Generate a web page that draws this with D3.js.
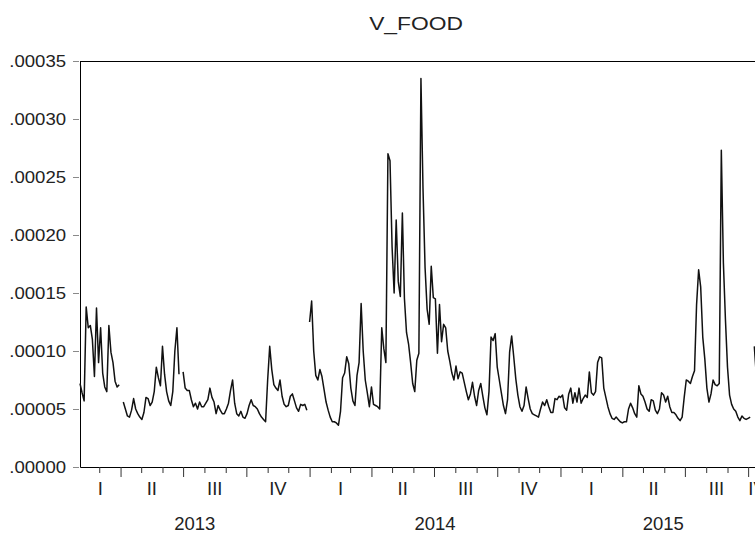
<!DOCTYPE html>
<html>
<head>
<meta charset="utf-8">
<script src="https://cdn.jsdelivr.net/npm/d3@7"></script>
<style>
  body { margin: 0; background: #fff; }
  svg { display: block; font-family: "Liberation Sans", Arial, sans-serif; }
</style>
</head>
<body>
<div id="chart"></div>
<script>
// V_FOOD, one value every 3 calendar days, in units of 1e-5
// null = missing observation (break in the line)
const start2013 = "2013-02-01";
const values2013 = [
  7.2, 6.4, 5.7, 13.8, 12.0, 12.2, 11.0, 7.8, 13.7, 9.0,
  12.0, 8.1, 6.9, 6.5, 12.2, 9.9, 9.0, 7.4, 6.9, 7.1,
  null, 5.6, 5.0, 4.4, 4.3, 4.9, 5.9, 5.0, 4.6, 4.3,
  4.1, 4.7, 6.0, 5.9, 5.3, 5.6, 6.5, 8.6, 7.7, 7.0,
  10.4, 8.0, 6.5, 5.7, 5.3, 6.5, 10.0, 12.0, 8.0, null,
  8.2, 6.8, 6.6, 6.6, 5.8, 5.2, 5.5, 5.0, 5.6, 5.2,
  5.2, 5.5, 5.8, 6.8, 6.0, 5.6, 4.6, 5.3, 4.9, 4.6,
  4.6, 5.0, 5.5, 6.6, 7.5, 5.5, 4.6, 4.4, 4.8, 4.3,
  4.2, 4.6, 5.3, 5.8, 5.3, 5.2, 5.0, 4.6, 4.3, 4.1,
  3.9, 7.5, 10.4, 8.4, 7.1, 6.8, 6.6, 7.5, 6.1, 5.4,
  5.2, 5.3, 6.1, 6.3, 5.7, 5.1, 4.8, 5.4, 5.3, 5.4,
  4.9, null
];
const start2014 = "2014-01-01";
const values2014 = [
  12.5, 14.3, 10.0, 7.9, 7.5, 8.4, 7.8, 6.7, 5.6, 4.9,
  4.3, 3.9, 3.9, 3.8, 3.6, 4.8, 7.7, 8.1, 9.5, 8.9,
  6.8, 5.7, 5.3, 7.9, 9.0, 14.1, 10.0, 7.5, 6.4, 5.2,
  6.9, 5.4, 5.3, 5.2, 5.0, 12.0, 10.2, 9.0, 27.0, 26.4,
  19.0, 15.0, 21.3, 16.0, 14.7, 21.9, 14.5, 11.6, 10.6, 9.0,
  7.2, 6.5, 9.2, 9.8, 33.5, 24.0, 17.2, 13.6, 12.3, 17.3,
  14.6, 14.5, 9.8, 14.0, 10.8, 12.3, 12.0, 10.0, 9.1, 8.1,
  7.5, 8.7, 7.6, 8.2, 8.1, 7.3, 6.5, 5.8, 6.3, 7.3,
  6.1, 5.3, 6.6, 7.2, 6.1, 5.1, 4.5, 6.5, 11.2, 10.9,
  11.5, 8.6, 7.5, 6.4, 5.3, 4.6, 5.8, 9.9, 11.3, 9.5,
  7.6, 6.2, 5.2, 4.8, 5.3, 6.9, 5.9, 5.0, 4.6, 4.5,
  4.4, 4.3, 5.0, 5.6, 5.3, 5.8, 5.2, 4.7, 4.7, 5.9,
  5.8, 6.1
];
const start2015 = "2015-01-01";
const values2015 = [
  6.0, 6.2, 5.1, 4.9, 6.3, 6.8, 5.5, 6.4, 5.6, 6.8,
  5.5, 5.9, 6.2, 6.0, 8.2, 6.4, 6.2, 6.5, 9.0, 9.5,
  9.4, 6.8, 6.0, 5.2, 4.6, 4.2, 4.1, 4.3, 4.1, 3.9,
  3.8, 3.9, 3.9, 5.0, 5.5, 5.1, 4.6, 4.3, 7.0, 6.3,
  6.1, 5.6, 5.0, 4.8, 5.8, 5.7, 4.9, 4.6, 5.0, 6.4,
  6.2, 5.6, 6.1, 5.2, 4.7, 4.7, 4.5, 4.2, 4.0, 4.3,
  6.0, 7.5, 7.4, 7.2, 7.8, 8.3, 14.0, 17.0, 15.5, 11.2,
  9.3, 6.8, 5.6, 6.3, 7.5, 7.1, 7.0, 7.2, 27.3, 17.6,
  12.7, 8.6, 6.2, 5.4, 5.0, 4.8, 4.3, 4.0, 4.4, 4.2,
  4.1, 4.2, 4.3, null, 10.4, 7.8
];
const stepDays = 3;
const firstDay = "2013-02-01";
const lastDay = "2015-10-27";

const yTicks = [0, 0.00005, 0.0001, 0.00015, 0.0002, 0.00025, 0.0003, 0.00035];
const quarterNames = ["I", "II", "III", "IV"];
const chartTitle = "V_FOOD";

const width = 755, height = 535;
const plot = {left: 80, top: 61, right: 766, bottom: 467};

const parse = d3.timeParse("%Y-%m-%d");

const points = [[start2013, values2013], [start2014, values2014], [start2015, values2015]]
  .flatMap(([s, vals]) => vals.map((v, i) => ({
    date: d3.timeDay.offset(parse(s), i * stepDays),
    value: v == null ? null : v * 1e-5
  })));

const svg = d3.select("#chart").append("svg")
  .attr("width", width).attr("height", height);

const x = d3.scaleTime()
  .domain([parse(firstDay), parse(lastDay)])
  .range([plot.left, plot.right]);
const y = d3.scaleLinear()
  .domain([0, 0.00035])
  .range([plot.bottom, plot.top]);

// title (EViews stretches it a bit horizontally)
svg.append("text")
  .attr("transform", "translate(416,30) scale(1.2,1)")
  .attr("text-anchor", "middle")
  .attr("font-size", "19px")
  .attr("fill", "#222")
  .text(chartTitle);

// top frame line
svg.append("line")
  .attr("x1", plot.left).attr("x2", plot.right + 10)
  .attr("y1", plot.top + 0.5).attr("y2", plot.top + 0.5)
  .attr("stroke", "#000");

// y axis
const yAxisG = svg.append("g")
  .attr("transform", `translate(${plot.left},0)`)
  .call(d3.axisLeft(y).tickValues(yTicks).tickSize(7).tickSizeOuter(0)
    .tickFormat(d => d3.format(".5f")(d).replace(/^0/, "")));
yAxisG.select(".domain").attr("stroke", "#000");
yAxisG.selectAll(".tick line").attr("stroke", "#8a8a8a").attr("x1", -1);
yAxisG.selectAll(".tick text")
  .attr("font-size", "16px")
  .attr("font-family", "Liberation Sans, Arial, sans-serif")
  .attr("fill", "#222")
  .attr("x", -14 / 1.16)
  .attr("transform", "scale(1.16,1)");

// x axis: month ticks, longer at quarter starts
const months = d3.timeMonth.range(d3.timeDay.offset(x.domain()[0], 1), x.domain()[1]);
const xAxisG = svg.append("g")
  .attr("transform", `translate(0,${plot.bottom})`)
  .call(d3.axisBottom(x).tickValues(months).tickSize(6).tickSizeOuter(0).tickFormat(""));
xAxisG.select(".domain").attr("stroke", "#000");
xAxisG.selectAll(".tick line")
  .attr("stroke", "#333")
  .attr("y2", d => d.getMonth() % 3 === 0 ? 10 : 6);

const [d0, d1] = x.domain();
const centerOf = (a, b) => (x(a < d0 ? d0 : a) + x(b > d1 ? d1 : b)) / 2;

// quarter labels
const quarters = d3.timeMonth.every(3).range(d3.timeYear.floor(d0), d1);
svg.append("g").selectAll("text")
  .data(quarters)
  .join("text")
  .attr("x", q => centerOf(q, d3.timeMonth.offset(q, 3)))
  .attr("y", 495)
  .attr("text-anchor", "middle")
  .attr("font-size", "18.5px")
  .attr("fill", "#222")
  .text(q => quarterNames[q.getMonth() / 3]);

// year labels
const years = d3.timeYear.range(d3.timeYear.floor(d0), d1);
svg.append("g").selectAll("text")
  .data(years)
  .join("text")
  .attr("x", yr => centerOf(yr, d3.timeYear.offset(yr, 1)))
  .attr("y", 530)
  .attr("text-anchor", "middle")
  .attr("font-size", "18.5px")
  .attr("fill", "#222")
  .text(yr => yr.getFullYear());

// series
const line = d3.line()
  .defined(d => d.value != null)
  .x(d => x(d.date))
  .y(d => y(d.value));

svg.append("path")
  .datum(points)
  .attr("fill", "none")
  .attr("stroke", "#111")
  .attr("stroke-width", 1.5)
  .attr("stroke-linejoin", "round")
  .attr("d", line);
</script>
</body>
</html>
